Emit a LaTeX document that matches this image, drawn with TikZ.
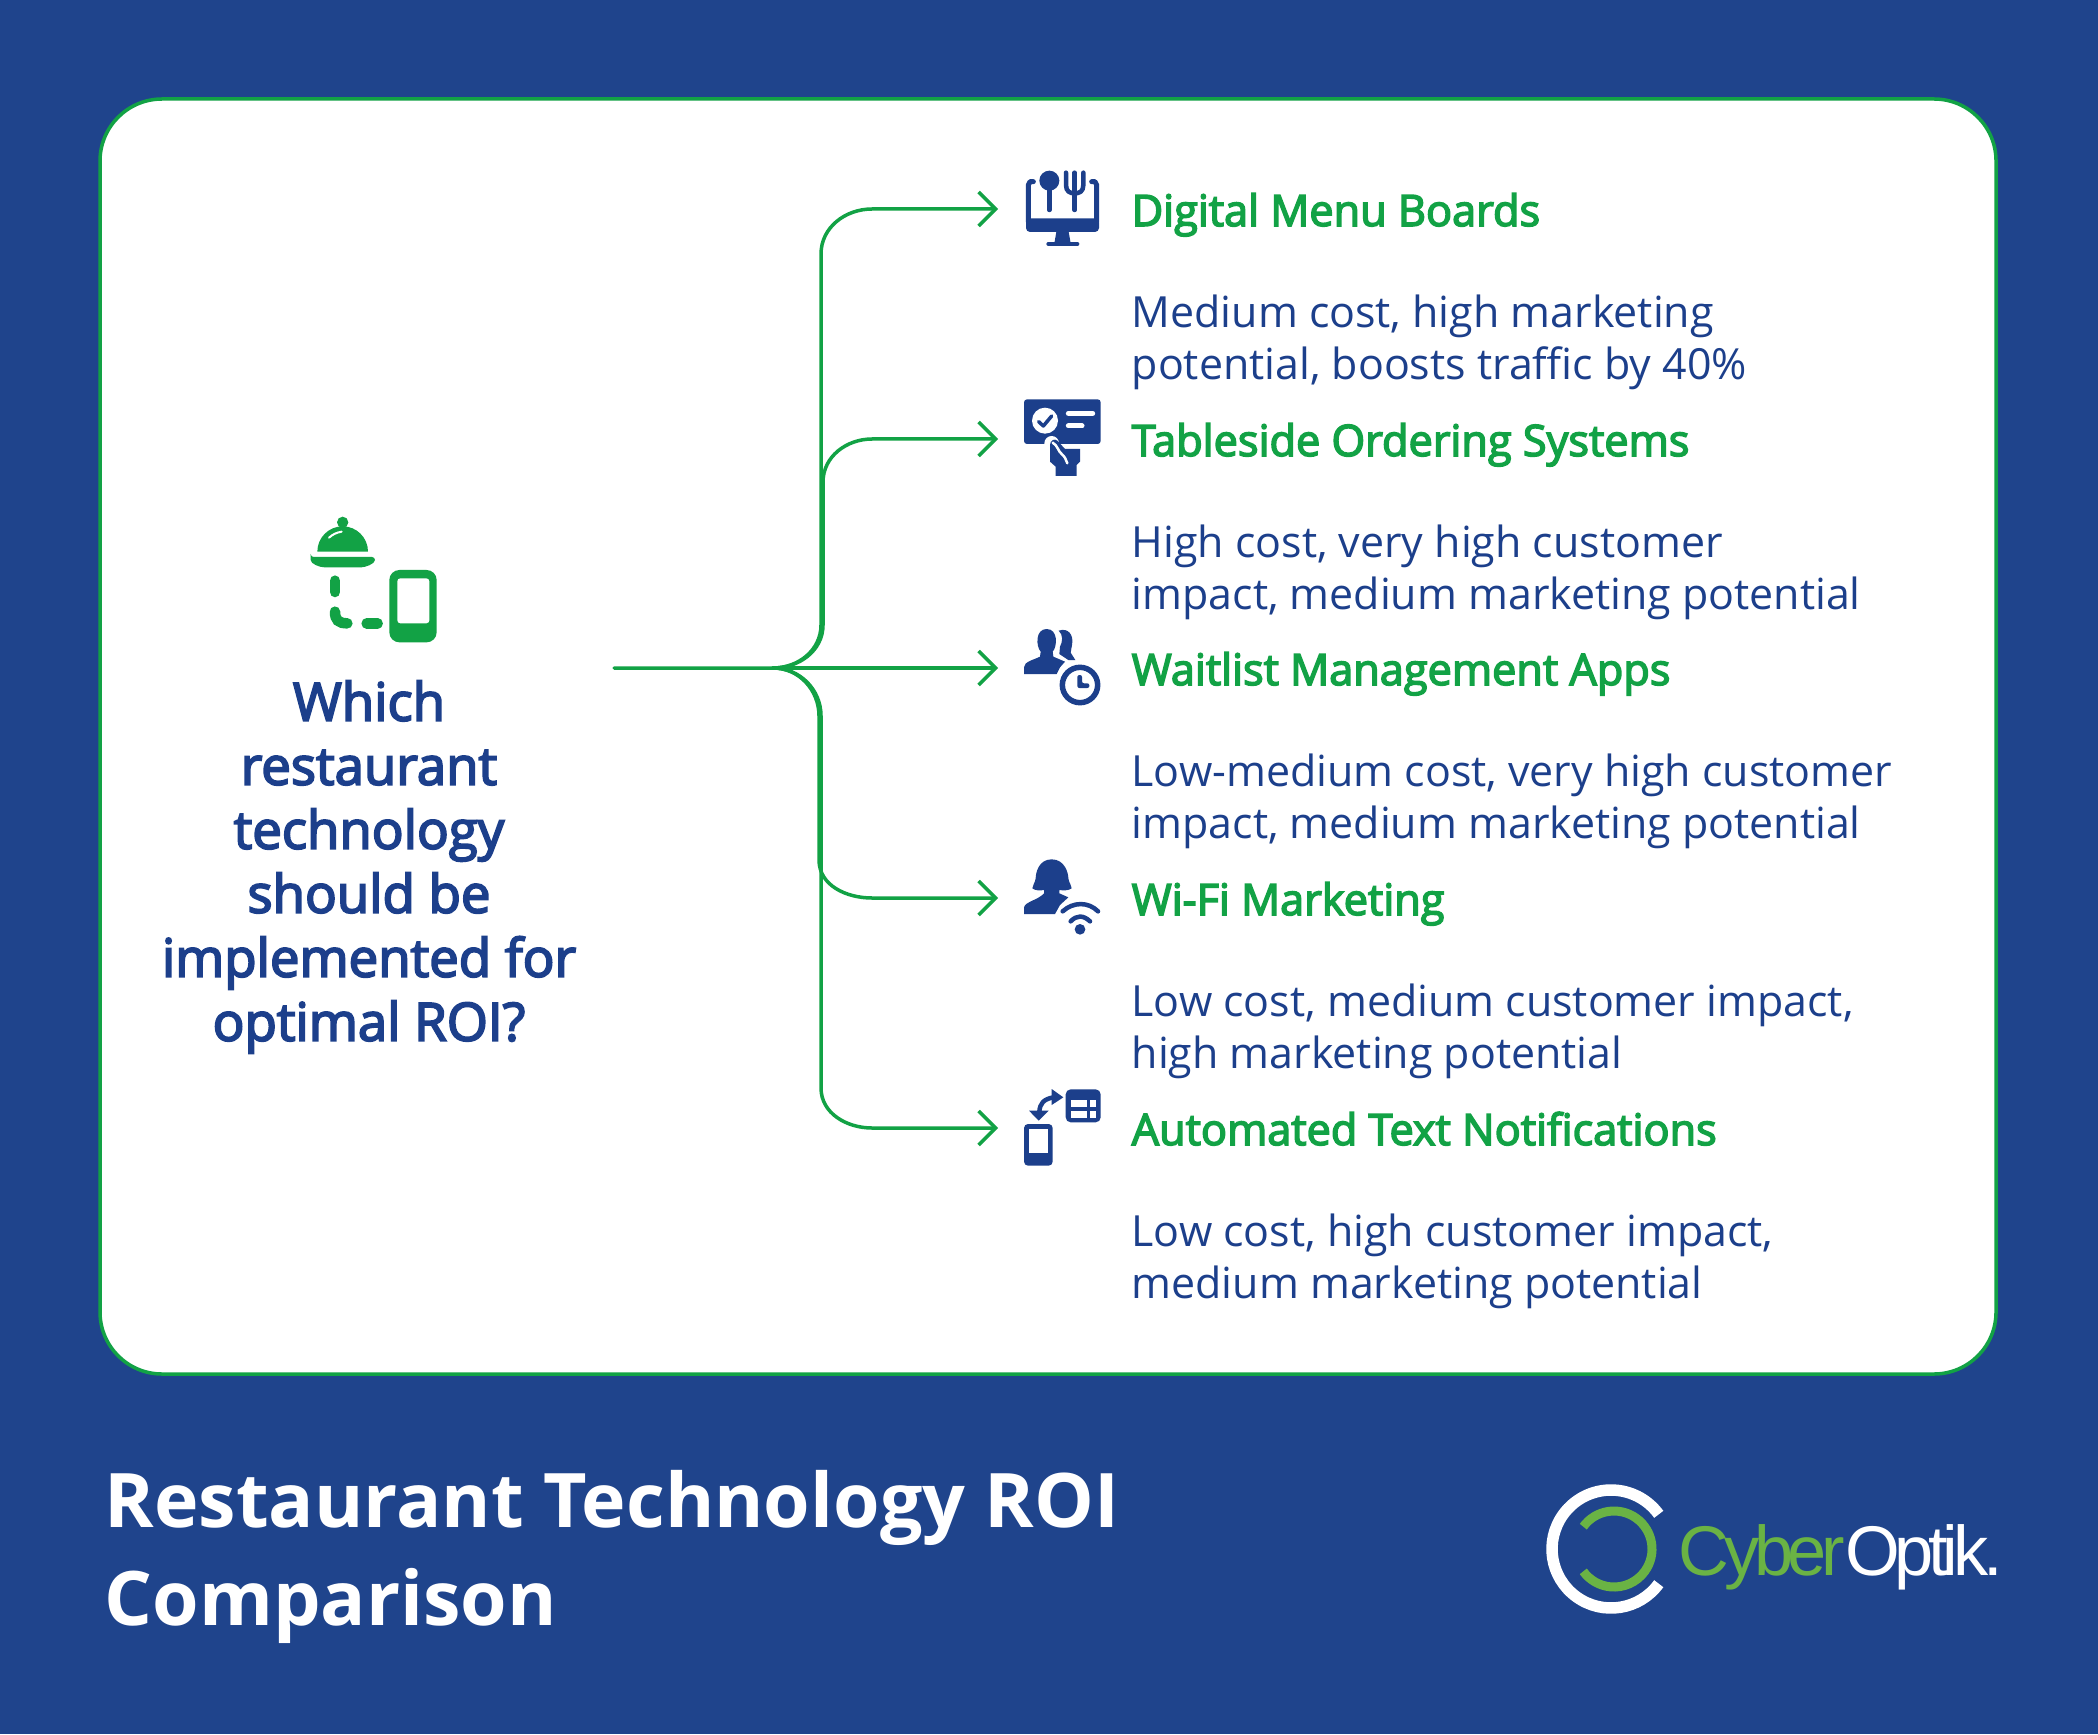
\documentclass[tikz,border=0pt]{standalone}
\usepackage{fontspec}
\setmainfont{Open Sans}
\newfontfamily\semifont[FakeBold=3.5]{Open Sans}
\newfontfamily\titlefont[BoldFont={Open Sans Bold}]{Open Sans}
\newfontfamily\logofont[LetterSpace=-7.5]{Liberation Sans}
\usetikzlibrary{arrows.meta}
\usetikzlibrary{positioning}
\definecolor{pageblue}{HTML}{1F448C}
\definecolor{navy}{HTML}{1C3F8B}
\definecolor{leaf}{HTML}{12A245}
\definecolor{logogreen}{HTML}{6AB344}
\tikzset{
  branch/.style={draw=leaf,line width=.035cm,-{Straight Barb[length=.17cm,width=.34cm]},line cap=round},
  head/.style={inner sep=0,anchor=base west,text=leaf,font=\fontsize{12.3}{15}\semifont,text height=.75em,text depth=.22em},
  desc/.style={inner sep=0,align=left,text=navy,font=\fontsize{12.2}{14.6}\selectfont},
  iconfill/.style={fill=navy,draw=none},
  iconline/.style={draw=navy,line cap=round,line join=round}
}

\begin{document}
\begin{tikzpicture}[x=.01cm,y=-.01cm]
  \useasboundingbox (0,0) rectangle (2098,1734);
  \fill[pageblue] (0,0) rectangle (2098,1734);
  \draw[draw=leaf,fill=white,line width=.035cm,rounded corners=.62cm] (100,99) rectangle (1996,1374);

  % question
  \node[inner sep=0,align=center,text=navy,font=\fontsize{15}{18.2}\semifont] (question) at (369,867)
    {Which\\restaurant\\technology\\should be\\implemented for\\optimal ROI?};

  % rows
  \node[head] (menu) at (1131,226) {Digital Menu Boards};
  \node[head] (table) at (1131,456) {Tableside Ordering Systems};
  \node[head] (wait) at (1131,685) {Waitlist Management Apps};
  \node[head] (wifi) at (1131,915) {Wi-Fi Marketing};
  \node[head] (text) at (1131,1145) {Automated Text Notifications};
  \node[desc] (menud) [below right=.6cm and 0cm of menu.south west] {Medium cost, high marketing\\potential, boosts traffic by 40\%};
  \node[desc] (tabled) [below right=.6cm and 0cm of table.south west] {High cost, very high customer\\impact, medium marketing potential};
  \node[desc] (waitd) [below right=.6cm and 0cm of wait.south west] {Low-medium cost, very high customer\\impact, medium marketing potential};
  \node[desc] (wifid) [below right=.6cm and 0cm of wifi.south west] {Low cost, medium customer impact,\\high marketing potential};
  \node[desc] (textd) [below right=.6cm and 0cm of text.south west] {Low cost, high customer impact,\\medium marketing potential};

  % connectors
  \coordinate (start) at (614,668);
  \coordinate (hub) at (773,668);
  \coordinate (tip1) at (998,209);
  \coordinate (tip2) at (998,439);
  \coordinate (tip3) at (998,668);
  \coordinate (tip4) at (998,898);
  \coordinate (tip5) at (998,1128);
  \coordinate (a1) at (821,625);
  \coordinate (a2) at (821,254);
  \coordinate (a3) at (872,209);
  \coordinate (b1) at (823,625);
  \coordinate (b2) at (823,482);
  \coordinate (b3) at (872,439);
  \coordinate (c1) at (819,716);
  \coordinate (c2) at (819,860);
  \coordinate (c3) at (872,898);
  \coordinate (d1) at (821,716);
  \coordinate (d2) at (821,1088);
  \coordinate (d3) at (872,1128);
  \draw[branch] (start) -- (hub) to[out=0,in=-90] (a1) -- (a2) to[out=90,in=180] (a3) -- (tip1);
  \draw[branch] (hub) to[out=0,in=-90] (b1) -- (b2) to[out=90,in=180] (b3) -- (tip2);
  \draw[branch] (hub) -- (tip3);
  \draw[branch] (hub) to[out=0,in=90] (c1) -- (c2) to[out=-90,in=180] (c3) -- (tip4);
  \draw[branch] (hub) to[out=0,in=90] (d1) -- (d2) to[out=-90,in=180] (d3) -- (tip5);

  % cloche and phone
  \begin{scope}[shift={(280,490)},scale=1/3]
    \fill[leaf] (188,97) circle (17);
    \fill[leaf] (112,185) arc (180:360:76);
    \draw[white,line width=.02cm,line cap=round] (147,143) to[bend left=15] (185,125);
    \fill[leaf,rounded corners=.03cm] (92,201) -- (285,201) .. controls (285,222) and (255,232) .. (235,232) -- (142,232) .. controls (120,232) and (92,222) .. (92,201) -- cycle;
    \draw[leaf,line width=.105cm,line cap=round] (165,272) -- (165,306);
    \draw[leaf,line width=.105cm,line cap=round] (165,365) .. controls (165,390) and (175,400) .. (202,400);
    \draw[leaf,line width=.105cm,line cap=round] (260,400) -- (293,400);
    \fill[leaf,rounded corners=.1cm] (328,240) rectangle (470,457);
    \fill[white,rounded corners=.03cm] (352,265) -- (448,265) -- (448,400) -- (352,400) -- cycle;
  \end{scope}

  % monitor
  \begin{scope}[shift={(1000,150)},scale=1/3]
    \draw[iconline,line width=.05cm] (100,95) -- (90,95) -- (85,105) -- (85,215);
    \draw[iconline,line width=.05cm] (275,95) -- (285,95) -- (290,105) -- (290,215);
    \fill[iconfill,rounded corners=.04cm] (78,205) -- (297,205) -- (297,246) -- (78,246) -- cycle;
    \fill[iconfill] (170,240) -- (205,240) -- (212,280) -- (163,280) -- cycle;
    \draw[iconline,line width=.04cm] (145,282) -- (232,282);
    \fill[iconfill] (148,92) circle (30);
    \draw[iconline,line width=.045cm] (148,100) -- (148,180);
    \draw[iconline,line width=.045cm] (198,68) -- (198,105) .. controls (198,125) and (210,130) .. (224,130) .. controls (238,130) and (250,125) .. (250,105) -- (250,68);
    \draw[iconline,line width=.045cm] (224,68) -- (224,180);
  \end{scope}

  % order card and hand
  \begin{scope}[shift={(1000,150)},scale=1/3]
    \fill[iconfill,rounded corners=.03cm] (72,748) rectangle (302,882);
    \fill[white] (135,812) circle (39);
    \draw[iconline,line width=.035cm] (116,815) -- (130,828) -- (155,798);
    \draw[white,line width=.05cm,line cap=round] (205,790) -- (278,790);
    \draw[white,line width=.05cm,line cap=round] (205,828) -- (246,828);
    \fill[white] (155,880) circle (22);
    \fill[iconfill] (150,885) -- (150,935) -- (167,950) -- (167,978) -- (230,978) -- (230,945) -- (240,935) -- (240,897) -- (195,897) -- (172,872) .. controls (165,865) and (150,870) .. (150,885) -- cycle;
    \draw[white,line width=.025cm,line cap=round] (158,878) .. controls (172,885) and (175,905) .. (185,912) .. controls (195,920) and (198,930) .. (202,940);
  \end{scope}

  % people and clock
  \begin{scope}[shift={(1000,610)},scale=1/3]
    \fill[iconfill] (176,62) .. controls (205,52) and (222,75) .. (216,105) -- (212,128) -- (226,150) -- (205,150) -- (178,132) -- (180,110) .. controls (188,95) and (190,75) .. (176,62) -- cycle;
    \fill[iconfill] (140,57) .. controls (175,57) and (172,110) .. (158,125) -- (160,140) -- (195,155) -- (180,172) -- (170,192) -- (72,192) -- (72,172) .. controls (72,155) and (100,150) .. (120,140) -- (122,125) .. controls (108,110) and (105,57) .. (140,57) -- cycle;
    \fill[white] (240,225) circle (70);
    \draw[draw=navy,fill=white,line width=.055cm] (240,225) circle (53);
    \fill[iconfill,rounded corners=.02cm] (232,195) -- (246,195) -- (246,220) -- (268,220) -- (268,234) -- (232,234) -- cycle;
  \end{scope}

  % person and wifi
  \begin{scope}[shift={(1000,610)},scale=1/3]
    \fill[iconfill] (155,748) .. controls (195,748) and (205,790) .. (205,805) .. controls (207,820) and (215,825) .. (215,835) .. controls (205,842) and (190,842) .. (178,840) -- (178,850) -- (205,862) -- (180,885) -- (165,912) -- (72,912) -- (72,892) .. controls (75,875) and (115,870) .. (132,850) -- (132,840) .. controls (120,842) and (105,842) .. (97,835) .. controls (97,825) and (105,820) .. (107,805) .. controls (107,790) and (115,748) .. (155,748) -- cycle;
    \fill[iconfill] (240,958) circle (16);
    \draw[iconline,line width=.045cm] (212,934) .. controls (230,915) and (250,915) .. (270,934);
    \draw[iconline,line width=.045cm] (188,904) .. controls (220,875) and (265,875) .. (294,904);
  \end{scope}

  % phone and table
  \begin{scope}[shift={(1000,1070)},scale=1/3]
    \fill[iconfill,rounded corners=.04cm] (72,162) rectangle (158,287);
    \fill[white] (87,178) rectangle (143,248);
    \fill[iconfill,rounded corners=.05cm] (197,58) rectangle (302,157);
    \fill[white] (213,90) rectangle (262,112);
    \fill[white] (270,90) rectangle (288,112);
    \fill[white] (213,124) rectangle (262,145);
    \fill[white] (270,124) rectangle (288,145);
    \draw[iconline,line width=.045cm,line cap=butt] (160,82) .. controls (130,88) and (120,100) .. (118,125);
    \fill[iconfill] (155,57) -- (190,82) -- (155,105) -- cycle;
    \fill[iconfill] (87,122) -- (146,122) -- (116,152) -- cycle;
  \end{scope}

  % title and logo
  \node[inner sep=0,anchor=west,align=left,text=white,font=\fontsize{21.4}{27.9}\titlefont\bfseries] (title) at (104,1557)
    {Restaurant Technology ROI\\Comparison};
  \draw[white,line width=.115cm] (1611,1549) ++(36:59) arc (36:324:59);
  \draw[logogreen,line width=.09cm] (1614,1549) ++(-144:38) arc (-144:144:38);
  \node[inner sep=0,anchor=base west,font=\fontsize{20}{24}\logofont] (logo) at (1678,1575)
    {\textcolor{logogreen}{Cyber}\textcolor{white}{Optik.}};
\end{tikzpicture}
\end{document}
